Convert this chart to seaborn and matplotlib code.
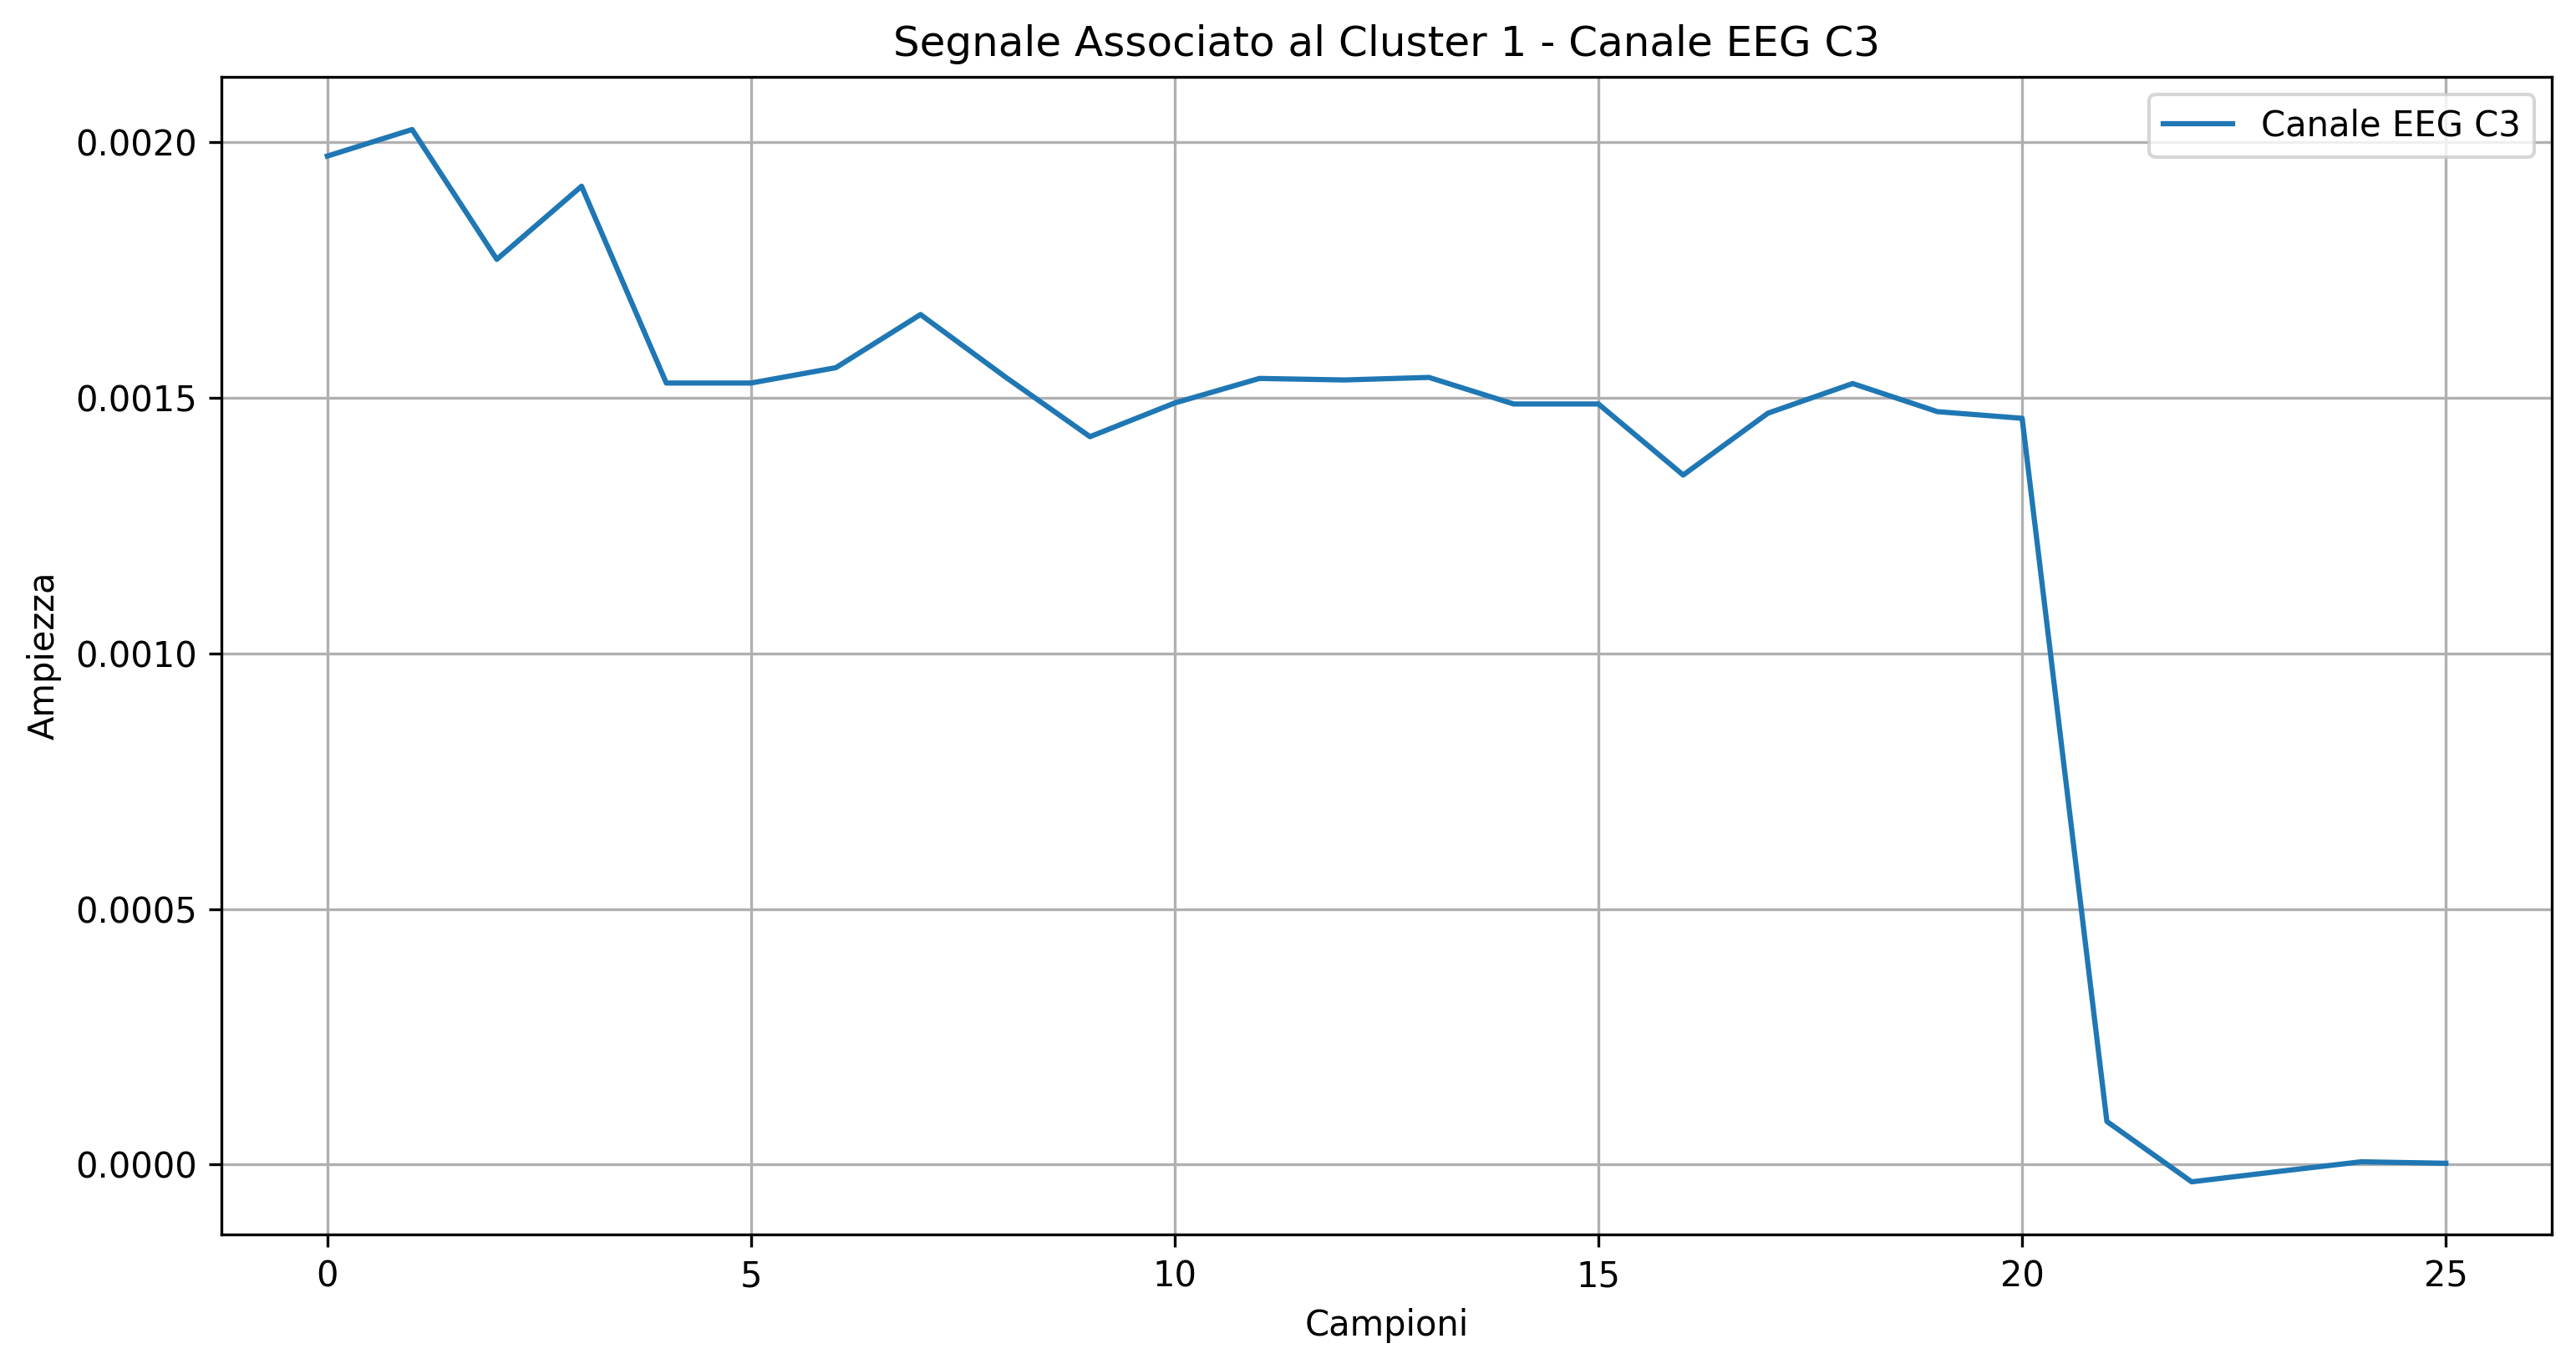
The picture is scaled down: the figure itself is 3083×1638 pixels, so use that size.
import matplotlib
matplotlib.use("Agg")
import matplotlib.pyplot as plt
import numpy as np
import pandas as pd
import seaborn as sns

# campioni e ampiezze
campioni = list(range(26))
ampiezza = [
    0.001973, 0.002025, 0.001771, 0.001914, 0.001529, 0.001529,
    0.001559, 0.001663, 0.001541, 0.001424, 0.001490, 0.001538,
    0.001535, 0.001540, 0.001488, 0.001488, 0.001349, 0.001470,
    0.001528, 0.001473, 0.001460, 0.0000843, -0.0000338, -0.0000140,
    0.0000054, 0.0000025,
]
canale = "Canale EEG C3"
cluster = 1

df = pd.DataFrame({"Campioni": campioni, "Ampiezza": ampiezza})

fig = plt.figure(figsize=(3083 / 300, 1638 / 300), dpi=300)
ax = fig.add_axes([265 / 3083, 161 / 1638, 2789 / 3083, 1385 / 1638])

sns.lineplot(data=df, x="Campioni", y="Ampiezza", ax=ax, label=canale,
             color="#1f77b4", linewidth=1.5)

ax.set_title(f"Segnale Associato al Cluster {cluster} - {canale}")
ax.set_xlabel("Campioni")
ax.set_ylabel("Ampiezza")
ax.grid(True)
ax.legend(loc="upper right")

fig.savefig("out.png", dpi=300)
plt.close(fig)
